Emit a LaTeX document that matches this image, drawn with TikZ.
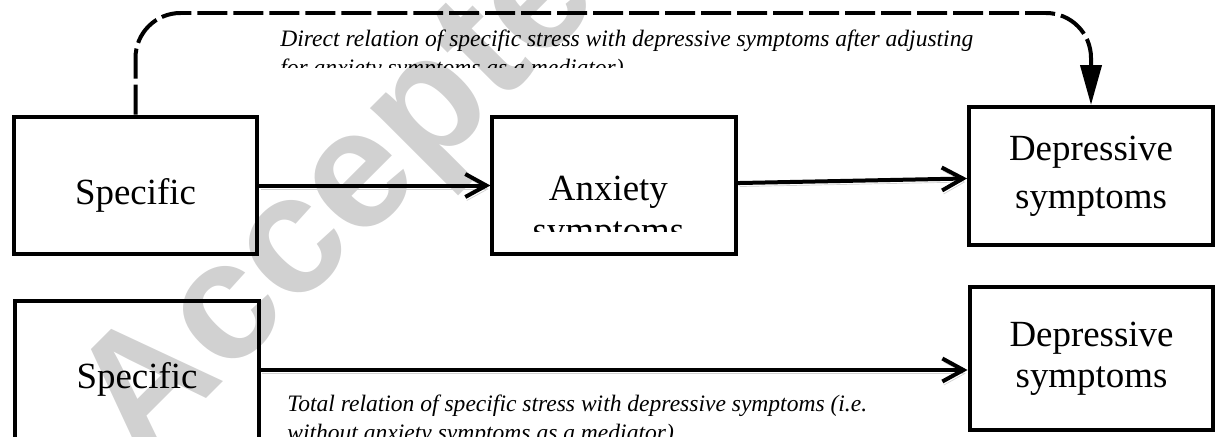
\documentclass[tikz,border=0pt]{standalone}
\usepackage{fontspec}
\setmainfont{Liberation Serif}
\newfontfamily\wmfont{Liberation Sans}
\usetikzlibrary{arrows.meta, positioning, calc}

\begin{document}
\begin{tikzpicture}[
    x=0.02cm, y=-0.02cm,
    box/.style={rectangle, draw, line width=0.08cm, minimum width=4.88cm, minimum height=2.76cm, align=center, inner sep=0pt, font=\fontsize{21}{27.3}\selectfont},
    oneline/.style={text height=0.9cm, text depth=0.16cm},
    boxtext/.style={align=center, inner sep=0pt, font=\fontsize{21}{23.9}\selectfont},
    note/.style={anchor=north west, align=left, inner sep=0pt, font=\fontsize{13.4}{16.5}\selectfont\itshape},
    watermark/.style={rotate=45, anchor=base west, inner sep=0pt, text=black!18, font=\wmfont\bfseries\fontsize{96}{96}\selectfont},
    arrow/.style={-{Straight Barb[length=0.42cm, width=0.46cm]}, line width=0.08cm, line cap=round, line join=round,
        preaction={draw=black!18, transform canvas={shift={(0.03cm,-0.07cm)}}}},
    dasharrow/.style={-{Triangle[length=0.8cm, width=0.42cm]}, line width=0.08cm, dash pattern=on 0.6cm off 0.12cm, rounded corners=0.9cm}
]
    \useasboundingbox (0,0) rectangle (1219,436);
    \clip (0,0) rectangle (1219,436);

    % watermark behind everything
    \node[watermark] (wm) at (140,465) {Accepted Manuscript};

    % mediation model
    \node[box, oneline] (spec) at (135.5,185.5) {Specific};
    \node[box, right=4.62cm of spec] (anx) {};
    \node[box] (dep) at (1091,176) {Depressive\\symptoms};

    \begin{scope}
        \clip (anx.north west) rectangle ([yshift=0.5cm]anx.south east);
        \node[boxtext, anchor=north] (anxtext) at ([xshift=-0.12cm, yshift=-1.22cm]anx.north) {Anxiety\\symptoms};
    \end{scope}

    % total effect model
    \node[box, oneline] (spec2) at (137,370) {Specific};
    \node[box, minimum height=2.86cm, font=\fontsize{21}{23.3}\selectfont] (dep2) at (1091.5,358.5) {Depressive\\symptoms};

    \coordinate (top) at (0,13);

    \draw[arrow] (spec) -- (anx);
    \draw[arrow] (anx) -- (dep);
    \draw[arrow] (spec2.east) -- (spec2.east -| dep2.west);
    \draw[dasharrow] (spec.north) |- (top -| dep.north) -- (dep.north);

    \begin{scope}
        \clip (0,0) rectangle (1219,67);
        \node[note] (direct) at (280,30) {Direct relation of specific stress with depressive symptoms after adjusting\\for anxiety symptoms as a mediator)};
    \end{scope}
    \node[note] (total) at (287,395) {Total relation of specific stress with depressive symptoms (i.e.\\without anxiety symptoms as a mediator)};
\end{tikzpicture}
\end{document}
